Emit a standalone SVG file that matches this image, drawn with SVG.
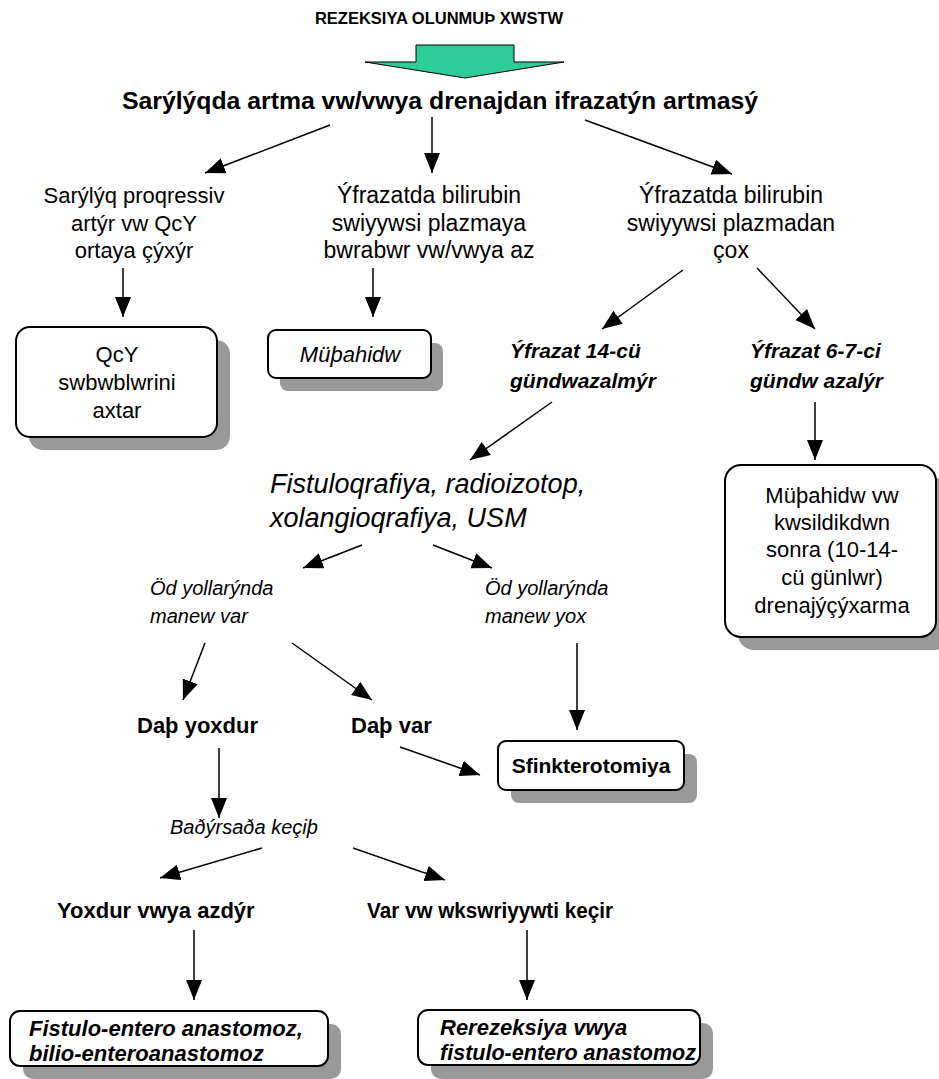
<svg xmlns="http://www.w3.org/2000/svg" width="939" height="1079" viewBox="0 0 939 1079">
<defs>
<marker id="ah" markerWidth="20" markerHeight="16" refX="20" refY="8" orient="auto" markerUnits="userSpaceOnUse"><path d="M0,0 L20,8 L0,16 Z" fill="#000"/></marker>
</defs>
<style>
text{font-family:"Liberation Sans",Arial,sans-serif;fill:#000}
.r{font-size:22px}
.b{font-size:21px;font-weight:bold}
.i{font-style:italic}
.m{text-anchor:middle}
.box{fill:#fff;stroke:#000;stroke-width:2}
.sh{fill:#999}
.c line{stroke:#000;stroke-width:1.5;marker-end:url(#ah)}
</style>
<rect width="939" height="1079" fill="#fff"/>
<g id="title"><text x="439" y="24" class="m" style="font-size:16.5px;font-weight:bold">REZEKSIYA OLUNMUÞ XWSTW</text></g>
<g id="bigarrow"><path d="M416,45 L514,45 L514,62 L564,62 L465,78 L365,62 L416,62 Z" fill="#2dcc99" stroke="#000" stroke-width="1"/></g>
<g id="n0"><text x="440" y="109" class="b m" style="font-size:24px" textLength="636" lengthAdjust="spacingAndGlyphs">Sarýlýqda artma vw/vwya drenajdan ifrazatýn artmasý</text></g>
<g id="n1"><text class="r m"><tspan x="134" y="203">Sarýlýq proqressiv</tspan><tspan x="134" y="231">artýr vw QcY</tspan><tspan x="134" y="258">ortaya çýxýr</tspan></text></g>
<g id="n2"><text class="r m" style="font-size:23px"><tspan x="429" y="203">Ýfrazatda bilirubin</tspan><tspan x="429" y="231">swiyywsi plazmaya</tspan><tspan x="429" y="258">bwrabwr vw/vwya az</tspan></text></g>
<g id="n3"><text class="r m" style="font-size:23px"><tspan x="731" y="203">Ýfrazatda bilirubin</tspan><tspan x="731" y="231">swiyywsi plazmadan</tspan><tspan x="731" y="258">çox</tspan></text></g>
<g id="n4"><rect class="sh" x="29" y="340" width="201" height="110" rx="14"/><rect class="box" x="16" y="327" width="201" height="110" rx="14"/><text class="r m"><tspan x="117" y="362">QcY</tspan><tspan x="117" y="390">swbwblwrini</tspan><tspan x="117" y="418">axtar</tspan></text></g>
<g id="n5"><rect class="sh" x="280" y="343" width="163" height="48" rx="8"/><rect class="box" x="268" y="330" width="163" height="48" rx="8"/><text x="350" y="362" class="r m i">Müþahidw</text></g>
<g id="n6"><text class="b i"><tspan x="510" y="358">Ýfrazat 14-cü</tspan><tspan x="510" y="388">gündwazalmýr</tspan></text></g>
<g id="n7"><text class="b i"><tspan x="750" y="358">Ýfrazat 6-7-ci</tspan><tspan x="750" y="388">gündw azalýr</tspan></text></g>
<g id="n8"><rect class="sh" x="738" y="478" width="213" height="172" rx="16"/><rect class="box" x="725" y="465" width="211" height="172" rx="16"/><text class="r m"><tspan x="832" y="503">Müþahidw vw</tspan><tspan x="832" y="530">kwsildikdwn</tspan><tspan x="832" y="557">sonra (10-14-</tspan><tspan x="832" y="585">cü günlwr)</tspan><tspan x="832" y="613">drenajýçýxarma</tspan></text></g>
<g id="n9"><text class="i" style="font-size:27px"><tspan x="270" y="493">Fistuloqrafiya, radioizotop,</tspan><tspan x="270" y="527">xolangioqrafiya, USM</tspan></text></g>
<g id="n10"><text class="i" style="font-size:20px"><tspan x="150" y="595">Öd yollarýnda</tspan><tspan x="150" y="623">manew var</tspan></text></g>
<g id="n11"><text class="i" style="font-size:20px"><tspan x="485" y="595">Öd yollarýnda</tspan><tspan x="485" y="623">manew yox</tspan></text></g>
<g id="n12"><text x="137" y="733" class="b" style="font-size:22px">Daþ yoxdur</text></g>
<g id="n13"><text x="351" y="733" class="b" style="font-size:22px">Daþ var</text></g>
<g id="n14"><rect class="sh" x="511" y="754" width="186" height="49" rx="8"/><rect class="box" x="498" y="741" width="186" height="49" rx="8"/><text x="591" y="773" class="b m" style="font-size:21px">Sfinkterotomiya</text></g>
<g id="n15"><text x="170" y="834" class="i" style="font-size:20px">Baðýrsaða keçiþ</text></g>
<g id="n16"><text x="57" y="918" class="b" style="font-size:22px">Yoxdur vwya azdýr</text></g>
<g id="n17"><text x="367" y="918" class="b" style="font-size:22px" textLength="246" lengthAdjust="spacingAndGlyphs">Var vw wkswriyywti keçir</text></g>
<g id="n18"><rect class="sh" x="23" y="1024" width="318" height="55" rx="10"/><rect class="box" x="10" y="1011" width="318" height="55" rx="10"/><text class="b i" style="font-size:22px"><tspan x="29" y="1036">Fistulo-entero anastomoz,</tspan><tspan x="29" y="1061">bilio-enteroanastomoz</tspan></text></g>
<g id="n19"><rect class="sh" x="431" y="1023" width="282" height="56" rx="10"/><rect class="box" x="418" y="1010" width="282" height="55" rx="10"/><text class="b i" style="font-size:22px"><tspan x="440" y="1035">Rerezeksiya vwya</tspan><tspan x="440" y="1060" textLength="256" lengthAdjust="spacingAndGlyphs">fistulo-entero anastomoz</tspan></text></g>
<g id="connectors" class="c">
<line x1="330" y1="125" x2="205" y2="173"/>
<line x1="432" y1="117" x2="432" y2="173"/>
<line x1="585" y1="120" x2="732" y2="174"/>
<line x1="123" y1="268" x2="123" y2="317"/>
<line x1="373" y1="268" x2="373" y2="317"/>
<line x1="683" y1="270" x2="602" y2="329"/>
<line x1="757" y1="268" x2="815" y2="329"/>
<line x1="552" y1="402" x2="470" y2="460"/>
<line x1="815" y1="402" x2="815" y2="460"/>
<line x1="362" y1="545" x2="303" y2="568"/>
<line x1="433" y1="545" x2="492" y2="568"/>
<line x1="205" y1="643" x2="183" y2="700"/>
<line x1="292" y1="643" x2="372" y2="700"/>
<line x1="577" y1="643" x2="577" y2="730"/>
<line x1="219" y1="748" x2="219" y2="818"/>
<line x1="400" y1="747" x2="480" y2="775"/>
<line x1="262" y1="848" x2="160" y2="878"/>
<line x1="353" y1="848" x2="445" y2="880"/>
<line x1="194" y1="930" x2="194" y2="1000"/>
<line x1="527" y1="930" x2="527" y2="1000"/>
</g>
</svg>
